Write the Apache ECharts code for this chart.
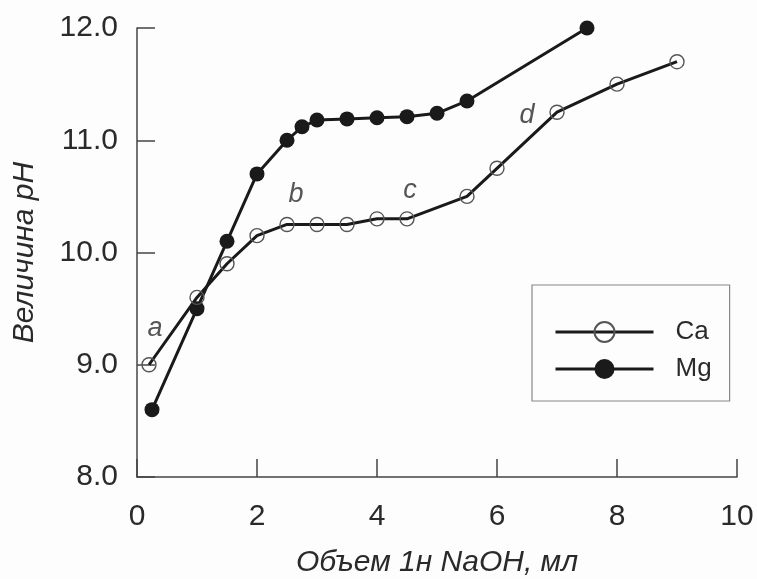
<!DOCTYPE html>
<html>
<head>
<meta charset="utf-8">
<script src="https://cdn.jsdelivr.net/npm/echarts@6/dist/echarts.min.js"></script>
<style>html,body{margin:0;padding:0;background:#fdfdfd;}#c{width:757px;height:579px;}</style>
</head>
<body>
<div id="c"></div>
<script>
const caX = [0.2, 1.0, 1.5, 2.0, 2.5, 3.0, 3.5, 4.0, 4.5, 5.5, 6.0, 7.0, 8.0, 9.0];
const caY = [9.0, 9.6, 9.9, 10.15, 10.25, 10.25, 10.25, 10.3, 10.3, 10.5, 10.75, 11.25, 11.5, 11.7];
const mgX = [0.25, 1.0, 1.5, 2.0, 2.5, 2.75, 3.0, 3.5, 4.0, 4.5, 5.0, 5.5, 7.5];
const mgY = [8.6, 9.5, 10.1, 10.7, 11.0, 11.12, 11.18, 11.19, 11.2, 11.21, 11.24, 11.35, 12.0];
const noteText = ['a', 'b', 'c', 'd'];
const noteX = [0.3, 2.65, 4.55, 6.5];
const noteY = [9.32, 10.52, 10.55, 11.22];
const xTicks = [0, 2, 4, 6, 8, 10];
const yTicks = [8.0, 9.0, 10.0, 11.0, 12.0];

const zip = (xs, ys) => xs.map((x, i) => [x, ys[i]]);
const font = 'Liberation Sans, Arial, sans-serif';
const chart = echarts.init(document.getElementById('c'));
chart.setOption({
  backgroundColor: '#fdfdfd',
  animation: false,
  grid: { left: 137, right: 20, top: 28, bottom: 102, containLabel: false, outerBoundsMode: 'none' },
  xAxis: {
    type: 'value', min: xTicks[0], max: xTicks[xTicks.length - 1], interval: 2,
    name: 'Объем 1н NaOH, мл', nameLocation: 'middle', nameGap: 71,
    nameTextStyle: { fontFamily: font, fontSize: 30, fontStyle: 'italic', color: '#2a2a2a' },
    axisLine: { lineStyle: { color: '#444', width: 1.5 } },
    axisTick: { inside: true, length: 18, lineStyle: { color: '#444', width: 1.5 } },
    axisLabel: { fontFamily: font, fontSize: 30, color: '#2a2a2a', margin: 25 },
    splitLine: { show: false }
  },
  yAxis: {
    type: 'value', min: yTicks[0], max: yTicks[yTicks.length - 1], interval: 1,
    name: 'Величина pH', nameLocation: 'middle', nameGap: 97,
    nameTextStyle: { fontFamily: font, fontSize: 30, fontStyle: 'italic', color: '#2a2a2a' },
    axisLine: { show: true, lineStyle: { color: '#444', width: 1.5 } },
    axisTick: { show: true, inside: true, length: 18, lineStyle: { color: '#444', width: 1.5 } },
    axisLabel: { fontFamily: font, fontSize: 30, color: '#2a2a2a', margin: 19, formatter: v => v.toFixed(1) },
    splitLine: { show: false }
  },
  legend: {
    orient: 'vertical', left: 532, top: 285,
    padding: [34, 18, 19, 22],
    itemWidth: 98, itemHeight: 25, itemGap: 11,
    borderColor: '#888', borderWidth: 1.2,
    lineStyle: { width: 3 },
    textStyle: { fontFamily: font, fontSize: 26, color: '#2a2a2a', padding: [0, 0, 0, 17] },
    data: ['Ca', 'Mg']
  },
  series: [
    {
      name: 'Ca', type: 'line', data: zip(caX, caY),
      symbol: 'circle', symbolSize: 14,
      lineStyle: { color: '#1a1a1a', width: 3 },
      itemStyle: { color: 'rgba(255,255,255,0)', borderColor: '#555', borderWidth: 1.4 },
      z: 3
    },
    {
      name: 'Mg', type: 'line', data: zip(mgX, mgY),
      symbol: 'circle', symbolSize: 15,
      lineStyle: { color: '#1a1a1a', width: 3 },
      itemStyle: { color: '#1a1a1a', borderColor: '#1a1a1a', borderWidth: 0 },
      z: 2
    },
    {
      name: 'notes', type: 'scatter', symbolSize: 0,
      data: noteText.map((t, i) => ({ value: [noteX[i], noteY[i]], name: t })),
      label: { show: true, position: 'inside', formatter: p => p.name,
        fontFamily: font, fontSize: 27, fontStyle: 'italic', color: '#2a2a2a' },
      silent: true, z: 4
    }
  ]
});
</script>
</body>
</html>
